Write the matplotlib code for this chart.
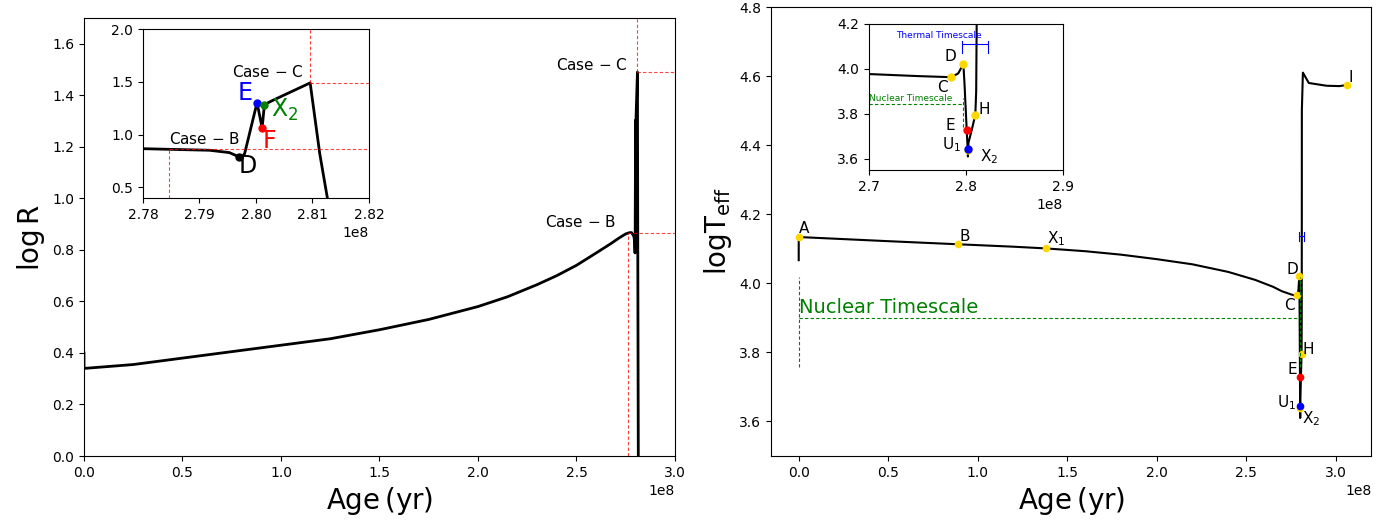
import numpy as np
import matplotlib
matplotlib.use('Agg')
import matplotlib.pyplot as plt

# --- radius track (age in 1e8 yr) ---
age_R = [0, 0, 0.002, 0.25, 0.5, 0.75, 1.0, 1.25, 1.5, 1.75, 2.0, 2.15, 2.3,
         2.4, 2.5, 2.6, 2.67, 2.72, 2.75, 2.77, 2.78, 2.7918, 2.7953, 2.797, 2.7975,
         2.798, 2.8002, 2.8011, 2.8015, 2.803, 2.806, 2.8096, 2.8113, 2.8126, 2.815]
logR = [0.40, 0.34, 0.34, 0.355, 0.38, 0.405, 0.43, 0.455, 0.49, 0.53, 0.58,
        0.618, 0.665, 0.70, 0.74, 0.788, 0.822, 0.848, 0.862, 0.867, 0.867, 0.852,
        0.83, 0.79, 0.788, 0.82, 1.303, 1.063, 1.284, 1.325, 1.40, 1.49, 0.82,
        0.415, -0.3]

# labelled points on the radius track
R_pts_age = [2.797, 2.8002, 2.8011, 2.8015]
R_pts_val = [0.788, 1.303, 1.063, 1.284]
R_pts_lab = ['D', 'E', 'F', r'X$_2$']
R_pts_col = ['black', 'blue', 'red', 'green']

# --- Teff track ---
age_T = [0, 0, 0.25, 0.5, 0.892, 1.2, 1.382, 1.6, 1.8, 2.0, 2.2, 2.4, 2.55,
         2.65, 2.7, 2.75, 2.785, 2.792, 2.7973, 2.7985, 2.8007, 2.8017, 2.802,
         2.8025, 2.806, 2.8096, 2.8105, 2.811, 2.8112, 2.817, 2.85, 2.95, 3.02, 3.063]
logT = [4.067, 4.134, 4.128, 4.122, 4.113, 4.106, 4.101, 4.093, 4.083, 4.07,
        4.055, 4.033, 4.01, 3.99, 3.977, 3.968, 3.963, 3.98, 4.022, 3.93, 3.73,
        3.645, 3.61, 3.67, 3.73, 3.795, 3.90, 4.2, 4.5, 4.61, 4.58, 4.572, 4.571, 4.574]

T_pts_lab = ['A', 'B', r'X$_1$', 'C', 'D', 'H', 'E', r'X$_2$', r'U$_1$', 'I']
T_pts_age = [0, 0.892, 1.382, 2.785, 2.7973, 2.8096, 2.8007, 2.8017, 2.8017, 3.063]
T_pts_val = [4.134, 4.113, 4.101, 3.965, 4.022, 3.795, 3.73, 3.64, 3.645, 4.574]
T_pts_col = ['gold', 'gold', 'gold', 'gold', 'gold', 'gold', 'red', 'gold', 'blue', 'gold']

case_B = (2.76, 0.867)
case_C = (2.8096, 1.49)
case_B_inset = (2.7847, 0.867)

red_ls = dict(ls=(0, (3, 2)), color='red', lw=0.8, alpha=0.75)
green_ls = dict(ls=(0, (3, 2)), color='green', lw=0.8)

fig = plt.figure(figsize=(14, 5.23), dpi=100)

# ---------------- left panel ----------------
ax1 = fig.add_axes([0.06, 0.1281, 0.4221, 0.8375])
ax1.plot(np.array(age_R) * 1e8, logR, color='black', lw=2)
ax1.set_xlim(0, 3e8)
ax1.set_ylim(0, 1.7)
ax1.set_yticks(np.arange(0, 1.61, 0.2))
ax1.plot([case_B[0] * 1e8] * 2, [0, case_B[1]], **red_ls)
ax1.plot([case_B[0] * 1e8, 3e8], [case_B[1]] * 2, **red_ls)
ax1.plot([case_C[0] * 1e8] * 2, [case_C[1], 1.7], **red_ls)
ax1.plot([case_C[0] * 1e8, 3e8], [case_C[1]] * 2, **red_ls)
ax1.annotate('Case $-$ B', (case_B[0] * 1e8, case_B[1]), xytext=(-8, 2),
             textcoords='offset points', ha='right', va='bottom', fontsize=11)
ax1.annotate('Case $-$ C', (case_C[0] * 1e8, case_C[1]), xytext=(-7, -1),
             textcoords='offset points', ha='right', va='bottom', fontsize=11)
ax1.set_xlabel(r'$\mathrm{Age\,(yr)}$', fontsize=20)
ax1.set_ylabel(r'$\mathrm{log\,R}$', fontsize=20)

# left inset
ins1 = fig.add_axes([0.1021, 0.6214, 0.1614, 0.3231])
ins1.plot(np.array(age_R) * 1e8, logR, color='black', lw=2)
ins1.set_xlim(2.78e8, 2.82e8)
ins1.set_ylim(0.4, 2.0)
ins1.set_yticks([0.5, 1.0, 1.5, 2.0])
ins1.plot([case_B_inset[0] * 1e8] * 2, [0.4, case_B_inset[1]], **red_ls)
ins1.plot([case_B_inset[0] * 1e8, 2.82e8], [case_B_inset[1]] * 2, **red_ls)
ins1.plot([case_C[0] * 1e8] * 2, [case_C[1], 2.0], **red_ls)
ins1.plot([case_C[0] * 1e8, 2.82e8], [case_C[1]] * 2, **red_ls)
ins1.annotate('Case $-$ B', (case_B_inset[0] * 1e8, case_B_inset[1]), xytext=(0, 1.5),
              textcoords='offset points', ha='left', va='bottom', fontsize=11)
ins1.annotate('Case $-$ C', (case_C[0] * 1e8, case_C[1]), xytext=(-5, 2),
              textcoords='offset points', ha='right', va='bottom', fontsize=11)
r_offsets = {'D': ((0, 2), 'left', 'top'), 'E': ((-3, 7), 'right', 'center'),
             'F': ((0, -1), 'left', 'top'), r'X$_2$': ((5, -4), 'left', 'center')}
for a, v, lab, c in zip(R_pts_age, R_pts_val, R_pts_lab, R_pts_col):
    ins1.plot(a * 1e8, v, 'o', color=c, ms=5)
    off, ha, va = r_offsets[lab]
    ins1.annotate(lab, (a * 1e8, v), xytext=off, textcoords='offset points',
                  ha=ha, va=va, fontsize=17, color=c)

# ---------------- right panel ----------------
ax2 = fig.add_axes([0.5507, 0.1281, 0.4289, 0.8585])
ax2.plot(np.array(age_T) * 1e8, logT, color='black', lw=1.5)
ax2.set_xlim(-0.155e8, 3.2e8)
ax2.set_ylim(3.5, 4.8)
t_offsets = {'A': ((0, 1), 'left', 'bottom'), 'B': ((1, 0), 'left', 'bottom'),
             r'X$_1$': ((1, 0), 'left', 'bottom'), 'C': ((-2, -2), 'right', 'top'),
             'D': ((-1, -1), 'right', 'bottom'), 'H': ((1, -2), 'left', 'bottom'),
             'E': ((-2, 0), 'right', 'bottom'), r'X$_2$': ((1, -1), 'left', 'top'),
             r'U$_1$': ((-3, 2), 'right', 'center'), 'I': ((1, 0), 'left', 'bottom')}
for a, v, lab, c in zip(T_pts_age, T_pts_val, T_pts_lab, T_pts_col):
    ax2.plot(a * 1e8, v, 'o', color=c, ms=4.5)
    off, ha, va = t_offsets[lab]
    ax2.annotate(lab, (a * 1e8, v), xytext=off, textcoords='offset points',
                 ha=ha, va=va, fontsize=11)
# nuclear timescale
nuc_x = [0, 2.8e8]
nuc_y, nuc_lo, nuc_hi = 3.90, 3.757, 4.017
ax2.plot(nuc_x, [nuc_y, nuc_y], **green_ls)
for xx in nuc_x:
    ax2.plot([xx, xx], [nuc_lo, nuc_hi], **green_ls)
ax2.text(0, nuc_y + 0.002, 'Nuclear Timescale', color='green', fontsize=14, va='bottom')
# thermal timescale
th_x, th_y = [2.7956e8, 2.823e8], 4.136
ax2.plot(th_x, [th_y, th_y], color='blue', lw=0.8)
for xx in th_x:
    ax2.plot([xx, xx], [th_y - 0.013, th_y + 0.013], color='blue', lw=0.8)
ax2.set_xlabel(r'$\mathrm{Age\,(yr)}$', fontsize=20)
ax2.set_ylabel(r'$\mathrm{logT_{eff}}$', fontsize=20)

# right inset
ins2 = fig.add_axes([0.6207, 0.675, 0.1386, 0.2792])
ins2.plot(np.array(age_T) * 1e8, logT, color='black', lw=1.5)
ins2.set_xlim(2.7e8, 2.9e8)
ins2.set_xticks([2.7e8, 2.8e8, 2.9e8])
ins2.set_ylim(3.55, 4.2)
ins2.set_yticks([3.6, 3.8, 4.0, 4.2])
ti_offsets = {'C': ((-3, -2), 'right', 'top'), 'D': ((-5, 0), 'right', 'bottom'),
              'H': ((2, 4), 'left', 'center'), 'E': ((-8, 3), 'right', 'center'),
              r'X$_2$': ((9, -5), 'left', 'center'), r'U$_1$': ((-5, 3), 'right', 'center')}
for a, v, lab, c in zip(T_pts_age, T_pts_val, T_pts_lab, T_pts_col):
    if a < 2.7:
        continue
    ins2.plot(a * 1e8, v, 'o', color=c, ms=5)
    if lab in ti_offsets:
        off, ha, va = ti_offsets[lab]
        ins2.annotate(lab, (a * 1e8, v), xytext=off, textcoords='offset points',
                      ha=ha, va=va, fontsize=11)
ins2.plot([2.7e8, 2.797e8], [3.845, 3.845], **green_ls)
ins2.plot([2.797e8, 2.797e8], [3.74, 3.87], **green_ls)
ins2.text(2.7005e8, 3.847, 'Nuclear Timescale', color='green', fontsize=6.5, va='bottom')
ins2.plot(th_x, [4.111, 4.111], color='blue', lw=0.8)
for xx in th_x:
    ins2.plot([xx, xx], [4.072, 4.124], color='blue', lw=0.8)
ins2.text(2.7725e8, 4.128, 'Thermal Timescale', color='blue', fontsize=6.5, ha='center', va='bottom')

fig.savefig('out.png', dpi=100)
